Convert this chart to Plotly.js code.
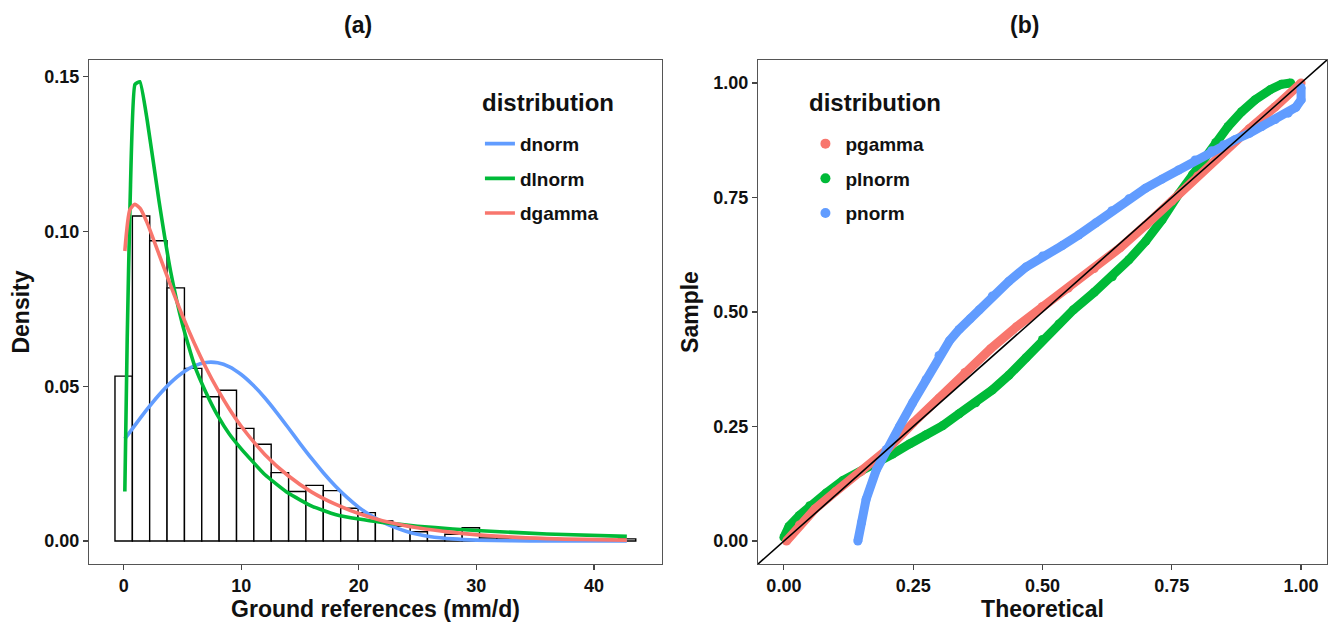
<!DOCTYPE html>
<html>
<head>
<meta charset="utf-8">
<script src="https://cdn.plot.ly/plotly-3.0.1.min.js"></script>
<style>html,body{margin:0;padding:0;background:#fff;}#chart{width:1328px;height:624px;}</style>
</head>
<body>
<div id="chart"></div>
<script>
// ---------- Panel (a): histogram of ground references + fitted densities ----------
const binCenters = [0, 1.48, 2.95, 4.43, 5.91, 7.38, 8.86, 10.34, 11.81, 13.29, 14.77, 16.24, 17.72, 19.2, 20.67,
                    22.15, 23.63, 25.1, 26.58, 28.06, 29.53, 31.01, 32.49, 33.96, 35.44, 36.92, 38.39, 39.87, 41.35, 42.82];
const binWidth = 1.477;
const binDensity = [0.0533, 0.105, 0.097, 0.0818, 0.0558, 0.0466, 0.0487, 0.0364, 0.0313, 0.0221, 0.016, 0.018, 0.0163,
                    0.0106, 0.0092, 0.0065, 0.0048, 0.003, 0.0012, 0.0022, 0.0043, 0.001, 0.0007, 0, 0, 0, 0, 0, 0, 0.0007];

const dnormX = [0.1, 1, 2, 3, 4, 5, 6, 7, 8, 9, 10, 11, 12, 13, 14, 15, 16, 17, 18, 19, 20, 21, 22, 23, 24, 25, 26, 28, 30, 33, 36, 42.8];
const dnormY = [0.033, 0.0376, 0.0426, 0.0472, 0.0512, 0.0544, 0.0566, 0.0577, 0.0576, 0.0563, 0.0538, 0.0504, 0.0463, 0.0416,
                0.0366, 0.0315, 0.0266, 0.022, 0.0178, 0.0141, 0.0109, 0.0083, 0.0062, 0.0045, 0.0032, 0.0022, 0.0015, 0.0007,
                0.0003, 0.0001, 0.00003, 0];

const dlnormX = [0.1, 0.3, 0.55, 0.96, 1.38, 2, 3, 4, 5, 6, 7, 8, 9, 10, 12, 14, 16, 18, 20, 22, 25, 28, 32, 36, 42.8];
const dlnormY = [0.016, 0.065, 0.11, 0.1475, 0.1484, 0.136, 0.11, 0.087, 0.07, 0.057, 0.048, 0.0405, 0.0345, 0.0298,
                 0.0215, 0.0155, 0.0113, 0.0086, 0.0071, 0.006, 0.0048, 0.0039, 0.003, 0.0023, 0.0015];

const dgammaX = [0.1, 0.53, 0.95, 1.4, 2, 3, 4, 5, 6, 7, 8, 9, 10, 12, 14, 16, 18, 20, 22, 25, 28, 32, 36, 42.8];
const dgammaY = [0.0937, 0.107, 0.1088, 0.1075, 0.1028, 0.0927, 0.0825, 0.0728, 0.064, 0.056, 0.0489, 0.0426, 0.0371,
                 0.028, 0.0211, 0.0158, 0.0119, 0.0089, 0.0066, 0.0043, 0.0028, 0.0015, 0.0008, 0.0003];

// ---------- Panel (b): P-P plot ----------
const pgammaX = [0.005, 0.03, 0.06, 0.1, 0.15, 0.2, 0.25, 0.3, 0.35, 0.4, 0.45, 0.5, 0.55, 0.6, 0.65, 0.7, 0.75, 0.8, 0.85, 0.9, 0.95, 1.0];
const pgammaY = [0.0, 0.035, 0.07, 0.108, 0.152, 0.2, 0.258, 0.312, 0.368, 0.42, 0.468, 0.512, 0.552, 0.595, 0.64, 0.69, 0.742, 0.797, 0.852, 0.9, 0.948, 1.0];

const plnormX = [0.0, 0.01, 0.03, 0.05, 0.082, 0.114, 0.146, 0.179, 0.21, 0.243, 0.275, 0.307, 0.339, 0.371, 0.403, 0.435,
                 0.468, 0.5, 0.532, 0.56, 0.6, 0.635, 0.667, 0.7, 0.731, 0.763, 0.79, 0.808, 0.835, 0.859, 0.885, 0.911, 0.94, 0.962, 0.98];
const plnormY = [0.008, 0.032, 0.056, 0.077, 0.105, 0.132, 0.15, 0.17, 0.19, 0.212, 0.232, 0.252, 0.278, 0.302, 0.33, 0.362,
                 0.4, 0.44, 0.474, 0.505, 0.543, 0.577, 0.614, 0.655, 0.701, 0.757, 0.8, 0.832, 0.87, 0.905, 0.937, 0.963, 0.985, 0.997, 1.0];

const pnormX = [0.143, 0.15, 0.159, 0.179, 0.198, 0.224, 0.249, 0.275, 0.3, 0.32, 0.339, 0.36, 0.378, 0.403, 0.435, 0.468, 0.5,
                0.538, 0.57, 0.6025, 0.634, 0.667, 0.699, 0.731, 0.763, 0.795, 0.827, 0.85, 0.872, 0.9, 0.924, 0.95, 0.975, 0.99, 1.0, 1.0];
const pnormY = [0.0, 0.04, 0.091, 0.156, 0.2, 0.251, 0.302, 0.353, 0.405, 0.437, 0.462, 0.485, 0.505, 0.535, 0.567, 0.598, 0.622,
                0.645, 0.668, 0.694, 0.721, 0.747, 0.77, 0.79, 0.81, 0.832, 0.852, 0.865, 0.876, 0.89, 0.905, 0.92, 0.934, 0.947, 0.963, 0.99];

const identityLine = [-0.05, 1.05];

const COL = {red: '#F8766D', green: '#00BA38', blue: '#619CFF'};
const FONT = '"Liberation Sans", Arial, Helvetica, sans-serif';

const traces = [
  {type: 'bar', x: binCenters, y: binDensity, width: binWidth, xaxis: 'x', yaxis: 'y',
   marker: {color: 'white', line: {color: 'black', width: 1.4}}, showlegend: false, hoverinfo: 'skip'},
  {type: 'scatter', mode: 'lines', name: 'dnorm', x: dnormX, y: dnormY, xaxis: 'x', yaxis: 'y',
   line: {color: COL.blue, width: 3.6, shape: 'spline', smoothing: 0.6}, legend: 'legend', legendgroup: 'a1'},
  {type: 'scatter', mode: 'lines', name: 'dlnorm', x: dlnormX, y: dlnormY, xaxis: 'x', yaxis: 'y',
   line: {color: COL.green, width: 3.6, shape: 'spline', smoothing: 0.4}, legend: 'legend', legendgroup: 'a2'},
  {type: 'scatter', mode: 'lines', name: 'dgamma', x: dgammaX, y: dgammaY, xaxis: 'x', yaxis: 'y',
   line: {color: COL.red, width: 3.6, shape: 'spline', smoothing: 0.6}, legend: 'legend', legendgroup: 'a3'},

  {type: 'scatter', mode: 'lines+markers', x: plnormX, y: plnormY, xaxis: 'x2', yaxis: 'y2', showlegend: false,
   line: {color: COL.green, width: 9}, marker: {color: COL.green, size: 9}},
  {type: 'scatter', mode: 'lines+markers', x: pgammaX, y: pgammaY, xaxis: 'x2', yaxis: 'y2', showlegend: false,
   line: {color: COL.red, width: 9}, marker: {color: COL.red, size: 9}},
  {type: 'scatter', mode: 'lines+markers', x: pnormX, y: pnormY, xaxis: 'x2', yaxis: 'y2', showlegend: false,
   line: {color: COL.blue, width: 9}, marker: {color: COL.blue, size: 9}},
  {type: 'scatter', mode: 'lines', x: identityLine, y: identityLine, xaxis: 'x2', yaxis: 'y2', showlegend: false,
   line: {color: 'black', width: 1.6}},

  {type: 'scatter', mode: 'markers', name: 'pgamma', x: [null], y: [null], xaxis: 'x2', yaxis: 'y2',
   marker: {color: COL.red, size: 10}, legend: 'legend2', legendgroup: 'b1'},
  {type: 'scatter', mode: 'markers', name: 'plnorm', x: [null], y: [null], xaxis: 'x2', yaxis: 'y2',
   marker: {color: COL.green, size: 10}, legend: 'legend2', legendgroup: 'b2'},
  {type: 'scatter', mode: 'markers', name: 'pnorm', x: [null], y: [null], xaxis: 'x2', yaxis: 'y2',
   marker: {color: COL.blue, size: 10}, legend: 'legend2', legendgroup: 'b3'}
];

const axisCommon = {
  showgrid: false, zeroline: false, showline: true, mirror: true, linecolor: '#555', linewidth: 1.2,
  ticks: 'outside', ticklen: 5, tickwidth: 1.2, tickcolor: '#444',
  tickfont: {family: FONT, size: 18, color: '#111', weight: 'bold'}
};
const titleFont = {family: FONT, size: 23, color: '#111', weight: 'bold'};

const legendCommon = {
  font: {family: FONT, size: 19, color: '#111', weight: 'bold'},
  bgcolor: 'rgba(0,0,0,0)', tracegroupgap: 7, xanchor: 'left', yanchor: 'top', itemwidth: 30
};

const layout = {
  width: 1328, height: 624,
  margin: {l: 0, r: 0, t: 0, b: 0},
  paper_bgcolor: 'white', plot_bgcolor: 'white',
  font: {family: FONT, color: '#111', weight: 'bold'},
  bargap: 0,
  xaxis: Object.assign({}, axisCommon, {domain: [0.067, 0.4985], range: [-2.95, 45.79], tickvals: [0, 10, 20, 30, 40],
    anchor: 'y', title: {text: 'Ground references (mm/d)', font: titleFont, standoff: 6}}),
  yaxis: Object.assign({}, axisCommon, {domain: [0.0962, 0.9038], range: [-0.0074, 0.1554], tickvals: [0, 0.05, 0.10, 0.15],
    tickformat: '.2f', anchor: 'x', title: {text: 'Density', font: titleFont, standoff: 8}}),
  xaxis2: Object.assign({}, axisCommon, {domain: [0.5708, 0.9992], range: [-0.05, 1.05], tickvals: [0, 0.25, 0.5, 0.75, 1],
    tickformat: '.2f', anchor: 'y2', title: {text: 'Theoretical', font: titleFont, standoff: 6}}),
  yaxis2: Object.assign({}, axisCommon, {domain: [0.0962, 0.9038], range: [-0.05, 1.05], tickvals: [0, 0.25, 0.5, 0.75, 1],
    tickformat: '.2f', anchor: 'x2', title: {text: 'Sample', font: titleFont, standoff: 8}}),
  legend: Object.assign({}, legendCommon, {x: 0.3614, y: 0.8}),
  legend2: Object.assign({}, legendCommon, {x: 0.6065, y: 0.8}),
  annotations: [
    {text: '(a)', x: 0.2696, y: 0.96, xref: 'paper', yref: 'paper', showarrow: false, xanchor: 'center', yanchor: 'middle',
     font: titleFont},
    {text: '(b)', x: 0.7715, y: 0.96, xref: 'paper', yref: 'paper', showarrow: false, xanchor: 'center', yanchor: 'middle',
     font: titleFont},
    {text: 'distribution', x: 0.3614, y: 0.835, xref: 'paper', yref: 'paper', showarrow: false, xanchor: 'left', yanchor: 'middle',
     font: {family: FONT, size: 24, color: '#111', weight: 'bold'}},
    {text: 'distribution', x: 0.6077, y: 0.835, xref: 'paper', yref: 'paper', showarrow: false, xanchor: 'left', yanchor: 'middle',
     font: {family: FONT, size: 24, color: '#111', weight: 'bold'}}
  ]
};

Plotly.newPlot('chart', traces, layout, {displayModeBar: false, staticPlot: true});
</script>
</body>
</html>
